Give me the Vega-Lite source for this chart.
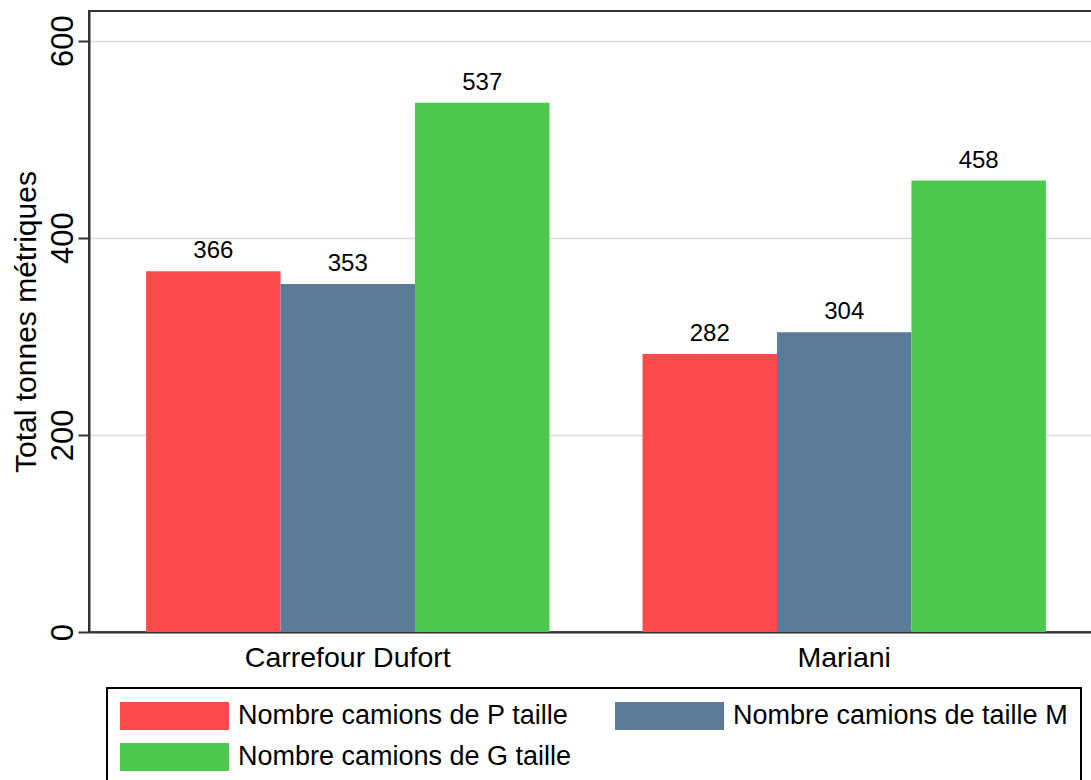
{
  "$schema": "https://vega.github.io/schema/vega-lite/v6.json",
  "width": 1014,
  "height": 621,
  "autosize": {"type": "none"},
  "padding": {"left": 89, "top": 11, "right": 0, "bottom": 148},
  "background": "white",
  "config": {
    "view": {"stroke": "#333333", "strokeWidth": 2},
    "font": "Liberation Sans",
    "legend": {"strokeWidth": 2}
  },
  "data": {
    "values": [
      {"site": "Carrefour Dufort", "serie": "Nombre camions de P taille", "valeur": 366},
      {"site": "Carrefour Dufort", "serie": "Nombre camions de taille M", "valeur": 353},
      {"site": "Carrefour Dufort", "serie": "Nombre camions de G taille", "valeur": 537},
      {"site": "Mariani", "serie": "Nombre camions de P taille", "valeur": 282},
      {"site": "Mariani", "serie": "Nombre camions de taille M", "valeur": 304},
      {"site": "Mariani", "serie": "Nombre camions de G taille", "valeur": 458}
    ]
  },
  "encoding": {
    "x": {
      "field": "site",
      "type": "nominal",
      "sort": ["Carrefour Dufort", "Mariani"],
      "scale": {"paddingInner": 0.1875, "paddingOuter": 0.115},
      "axis": {
        "title": null,
        "labelAngle": 0,
        "labelFontSize": 28.5,
        "labelColor": "black",
        "labelLimit": 500,
        "ticks": false,
        "tickSize": 0,
        "labelPadding": 11,
        "labelBaseline": "top",
        "domainColor": "#333333",
        "domainWidth": 2
      }
    },
    "xOffset": {
      "field": "serie",
      "sort": ["Nombre camions de P taille", "Nombre camions de taille M", "Nombre camions de G taille"],
      "scale": {"paddingInner": 0, "paddingOuter": 0}
    },
    "y": {
      "field": "valeur",
      "type": "quantitative",
      "scale": {"domain": [0, 630], "nice": false},
      "axis": {
        "title": "Total tonnes métriques",
        "titleFontSize": 30,
        "titleFontWeight": "normal",
        "titleColor": "black",
        "titleX": -54,
        "titleBaseline": "alphabetic",
        "values": [0, 200, 400, 600],
        "labelAngle": 270,
        "labelAlign": "center",
        "labelBaseline": "alphabetic",
        "labelFontSize": 31,
        "labelColor": "black",
        "labelPadding": 6,
        "tickSize": 11,
        "tickColor": "#333333",
        "tickWidth": 2,
        "domainColor": "#333333",
        "domainWidth": 2,
        "grid": true,
        "gridColor": "#dcdcdc",
        "gridWidth": 1.5
      }
    }
  },
  "layer": [
    {
      "mark": {"type": "bar", "strokeWidth": 0},
      "encoding": {
        "color": {
          "field": "serie",
          "type": "nominal",
          "scale": {
            "domain": ["Nombre camions de P taille", "Nombre camions de taille M", "Nombre camions de G taille"],
            "range": ["#FF4B4B", "#5B7B99", "#4CC94D"]
          },
          "legend": {
            "orient": "none",
            "legendX": 18,
            "legendY": 677,
            "direction": "horizontal",
            "columns": 2,
            "title": null,
            "symbolType": "M-1,-0.257H1V0.257H-1Z",
            "symbolSize": 11881,
            "symbolStrokeWidth": 0,
            "symbolOpacity": 1,
            "labelFontSize": 27,
            "labelColor": "black",
            "labelOffset": 9,
            "labelLimit": 600,
            "columnPadding": 43,
            "rowPadding": 11,
            "clipHeight": 30,
            "padding": 13,
            "strokeColor": "black",
            "fillColor": "white",
            "symbolOffset": 0
          }
        }
      }
    },
    {
      "mark": {"type": "text", "dy": -13, "baseline": "alphabetic", "fontSize": 24, "color": "black"},
      "encoding": {
        "text": {"field": "valeur", "type": "quantitative"}
      }
    }
  ]
}
